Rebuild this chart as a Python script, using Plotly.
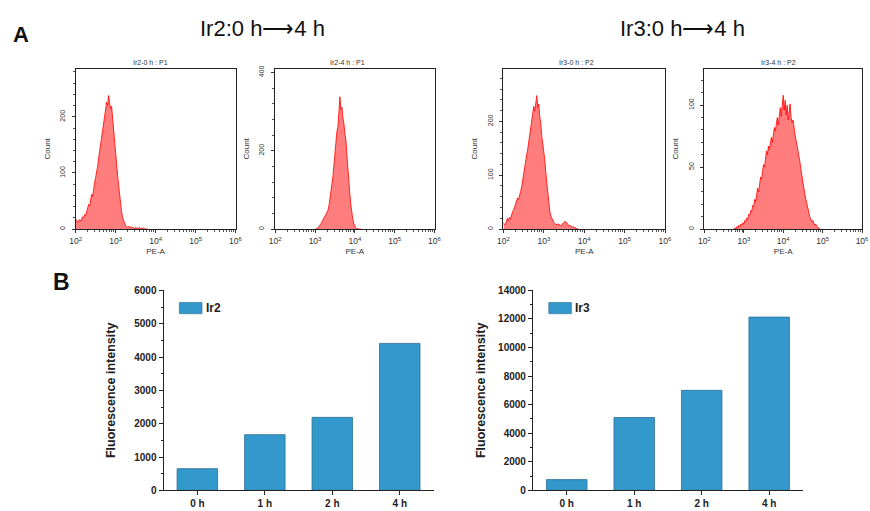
import numpy as np
import plotly.graph_objects as go

# ---------------- data ----------------
# flow cytometry histograms: counts per channel (log10 PE-A grid, step 0.025 decade)
HIST_STEP = 0.025
P1_START = 2.000  # Ir2-0 h
P1_COUNTS = [18, 14, 12, 15, 17, 14, 19, 22, 20, 26, 24, 31, 38, 44, 41, 55, 62, 58, 74, 83,
             92, 101, 112, 126, 139, 150, 168, 181, 194, 205, 212, 226, 221, 238, 224, 215, 219, 196,
             178, 152, 140, 118, 96, 78, 60, 44, 31, 20, 14, 10, 6, 5, 3, 5, 3, 4, 2, 3, 2, 1, 3, 2,
             1, 2, 3, 1, 2, 1, 2, 0, 1, 0, 0]
P2_START = 3.000  # Ir2-4 h
P2_COUNTS = [0, 0, 1, 3, 6, 10, 14, 19, 24, 28, 33, 36, 40, 48, 60, 78, 98, 115, 135, 165, 198,
             232, 250, 262, 290, 338, 305, 312, 284, 270, 244, 228, 190, 150, 120, 88, 62, 40, 24,
             14, 7, 3, 1, 0, 0, 0, 0]
P3_START = 2.000  # Ir3-0 h
P3_COUNTS = [12, 8, 10, 14, 20, 16, 22, 19, 28, 32, 35, 42, 45, 52, 58, 55, 66, 70, 78, 92, 104,
             112, 124, 138, 148, 160, 176, 190, 204, 214, 228, 219, 236, 248, 226, 232, 208, 196,
             172, 158, 152, 128, 104, 82, 64, 46, 32, 24, 19, 16, 12, 10, 9, 8, 10, 7, 8, 6, 9, 11,
             12, 14, 13, 11, 8, 6, 7, 4, 3, 5, 2, 3, 1, 0, 0]
P4_START = 2.750  # Ir3-4 h
P4_COUNTS = [0, 1, 0, 2, 1, 3, 2, 4, 3, 5, 4, 7, 6, 9, 8, 12, 11, 15, 14, 19, 18, 24, 22, 29, 33,
             30, 38, 42, 40, 48, 52, 50, 58, 63, 60, 67, 64, 71, 74, 70, 78, 82, 79, 86, 90, 84, 94,
             98, 91, 103, 108, 96, 104, 92, 100, 88, 95, 101, 90, 86, 88, 80, 76, 72, 68, 62, 58,
             54, 48, 42, 38, 32, 28, 24, 20, 16, 13, 10, 8, 6, 7, 4, 3, 4, 2, 1, 1, 0, 0]

HIST_TITLES = ["Ir2-0 h : P1", "Ir2-4 h : P1", "Ir3-0 h : P2", "Ir3-4 h : P2"]
HIST_YMAX = [286, 410, 298, 129.5]
HIST_YDTICK = [100, 200, 100, 50]
HIST_YMINOR = [20, 40, 20, 10]
X_TICK_EXP = [2, 3, 4, 5, 6]

GROUP_TITLES = ["Ir2:0 h\u27f64 h", "Ir3:0 h\u27f64 h"]

CATEGORIES = ["0 h", "1 h", "2 h", "4 h"]
IR2_VALUES = [650, 1670, 2190, 4410]
IR3_VALUES = [750, 5100, 7000, 12130]

# ---------------- layout helpers ----------------
W, H = 870, 511
FONT = "Arial, Liberation Sans, sans-serif"


def dx(a, b):
    return [a / W, b / W]


def dy(top, bot):
    return [1 - bot / H, 1 - top / H]


def px(xp):
    return xp / W


def py(yp):
    return 1 - yp / H


def note(fig, x, y, text, size, xanchor="center", **fontkw):
    fig.add_annotation(x=px(x), y=py(y), xref="paper", yref="paper", text=text,
                       showarrow=False, xanchor=xanchor, yanchor="middle",
                       font=dict(size=size, family=FONT, **fontkw))


fig = go.Figure()

hist_sets = [(P1_START, P1_COUNTS), (P2_START, P2_COUNTS), (P3_START, P3_COUNTS), (P4_START, P4_COUNTS)]
hist_boxes = [(70.7, 233), (273.3, 435), (505, 669), (709, 869)]
hist_title_x = [147, 347, 579, 784]
HT, HB = 65, 229

minor_vals = [k * 10 ** d for d in range(2, 6) for k in range(2, 10)]

for i, ((start, counts), (x0, x1)) in enumerate(zip(hist_sets, hist_boxes)):
    n = i + 1
    xs = [10 ** (start + HIST_STEP * j) for j in range(len(counts))]
    xa = "x" if n == 1 else f"x{n}"
    ya = "y" if n == 1 else f"y{n}"
    fig.add_trace(go.Scatter(
        x=xs, y=counts, mode="lines", xaxis=xa, yaxis=ya, showlegend=False,
        line=dict(color="#ff0000", width=0.8),
        fill="tozeroy", fillcolor="rgba(255,118,118,0.95)",
    ))
    key = "" if n == 1 else str(n)
    fig.layout["xaxis" + key] = dict(
        domain=dx(x0, x1), anchor=ya, type="log", range=[2, 6],
        tickmode="array", tickvals=[10 ** e for e in X_TICK_EXP],
        ticktext=[f"10<sup>{e}</sup>" for e in X_TICK_EXP],
        ticks="outside", ticklen=3, tickwidth=0.8, tickcolor="#333",
        ticklabelstandoff=1,
        minor=dict(tickmode="array", tickvals=minor_vals, ticks="outside", ticklen=2,
                   tickwidth=0.6, tickcolor="#555", showgrid=False),
        showline=True, linecolor="#222", linewidth=1, mirror=True,
        showgrid=False, zeroline=False,
        tickfont=dict(size=8.5, family=FONT, color="#333"),
        title=dict(text="PE-A", font=dict(size=8, family=FONT, color="#333"), standoff=3),
    )
    fig.layout["yaxis" + key] = dict(
        domain=dy(HT, HB), anchor=xa, range=[0, HIST_YMAX[i]],
        dtick=HIST_YDTICK[i], tick0=0, tickangle=-90,
        ticks="outside", ticklen=3, tickwidth=0.8, tickcolor="#333",
        ticklabelstandoff=4,
        minor=dict(dtick=HIST_YMINOR[i], ticks="outside", ticklen=2, tickwidth=0.6,
                   tickcolor="#555", showgrid=False),
        showline=True, linecolor="#222", linewidth=1, mirror=True,
        showgrid=False, zeroline=False,
        tickfont=dict(size=7, family=FONT, color="#333"),
        title=dict(text="Count", font=dict(size=8, family=FONT, color="#333"), standoff=7),
    )
    note(fig, hist_title_x[i], 59, HIST_TITLES[i], 7, color="#333")

# ---------------- bar charts ----------------
BAR_COLOR = "#3399cc"
bar_sets = [("Ir2", IR2_VALUES, (160, 434), 6000, 1000, 500, 176, 15),
            ("Ir3", IR3_VALUES, (535, 809), 14000, 2000, 1000, 551, 9)]
BT, BB = 291.7, 496
for k, (name, vals, (x0, x1), ymax, dt, mdt, legx, stand) in enumerate(bar_sets):
    n = 5 + k
    xa, ya = f"x{n}", f"y{n}"
    fig.add_trace(go.Bar(
        x=CATEGORIES, y=vals, name=name, width=0.6, xaxis=xa, yaxis=ya, showlegend=False,
        marker=dict(color=BAR_COLOR, line=dict(color="#2b6d94", width=0.8)),
    ))
    fig.layout[f"xaxis{n}"] = dict(
        domain=dx(x0, x1), anchor=ya, type="category", range=[-0.5, 3.5],
        ticks="outside", ticklen=4, tickwidth=1, tickcolor="#222",
        showline=True, linecolor="#222", linewidth=1.2, showgrid=False, zeroline=False,
        tickfont=dict(size=10, family=FONT, color="#222", weight="bold"),
    )
    fig.layout[f"yaxis{n}"] = dict(
        domain=dy(BT, BB), anchor=xa, range=[0, ymax], dtick=dt, tick0=0,
        tickformat="d",
        ticks="outside", ticklen=4, tickwidth=1, tickcolor="#222",
        minor=dict(dtick=mdt, ticks="outside", ticklen=2, tickwidth=1, tickcolor="#222",
                   showgrid=False),
        showline=True, linecolor="#222", linewidth=1.2, showgrid=False, zeroline=False,
        tickfont=dict(size=10, family=FONT, color="#222", weight="bold"),
        title=dict(text="Fluorescence intensity", standoff=stand,
                   font=dict(size=12.5, family=FONT, color="#222", weight="bold")),
    )
    # legend swatch + label
    fig.add_shape(type="rect", xref="paper", yref="paper",
                  x0=px(legx), x1=px(legx + 23), y0=py(315.5), y1=py(304),
                  fillcolor=BAR_COLOR, line=dict(color="#2b6d94", width=0.6))
    note(fig, legx + 25, 310, name, 12, xanchor="left", color="#222", weight="bold")

# ---------------- titles / panel letters ----------------
note(fig, 260, 24, GROUP_TITLES[0], 22, color="#111")
note(fig, 686.5, 24, GROUP_TITLES[1], 22, color="#111")
note(fig, 15, 30, "<b>A</b>", 22, color="#111")
note(fig, 56, 283, "<b>B</b>", 23, color="#111")

fig.update_layout(
    width=W, height=H, autosize=False,
    margin=dict(l=0, r=0, t=0, b=0),
    paper_bgcolor="white", plot_bgcolor="white",
    font=dict(family=FONT),
    showlegend=False,
    bargap=0.4,
)

fig.write_html("out.html")
